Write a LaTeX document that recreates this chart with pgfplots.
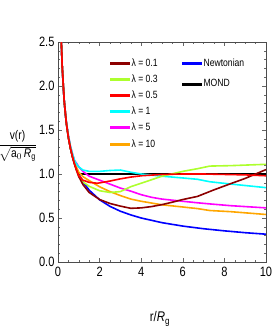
\documentclass[border=0pt]{standalone}
\usepackage{fontspec}
\setmainfont[FakeStretch=0.82]{Liberation Sans}
\usepackage{amsmath}
\usepackage{pgfplots}
\pgfplotsset{compat=1.18}
\definecolor{cDR}{rgb}{0.55,0,0}
\definecolor{cGY}{rgb}{0.68,1,0.18}
\definecolor{cRD}{rgb}{1,0,0}
\definecolor{cCY}{rgb}{0,1,1}
\definecolor{cMG}{rgb}{1,0,1}
\definecolor{cOR}{rgb}{1,0.65,0}
\definecolor{cBL}{rgb}{0,0,1}
\begin{document}
\begin{tikzpicture}
\path[use as bounding box] (-58pt,-65pt) rectangle (215pt,262pt);
\pgfplotsset{
  lgimg/.style={legend image code/.code={\fill[##1] (0pt,-1pt) rectangle (19pt,1pt);}},
}
\begin{axis}[
  scale only axis, width=208pt, height=220pt,
  xmin=0, xmax=10, ymin=0, ymax=2.5,
  xtick={0,2,...,10}, ytick={0,0.5,...,2.5},
  minor x tick num=3, minor y tick num=4,
  tick align=inside,
  major tick length=4pt, minor tick length=2pt,
  axis line style={black!70},
  every tick/.style={black!60},
  ticklabel style={font=\fontsize{13.5}{13.5}\selectfont},
  /pgf/number format/assume math mode=true,
  yticklabel style={/pgf/number format/.cd, fixed, fixed zerofill, precision=1},
  xticklabel style={yshift=-2pt},
  every axis y label/.style={at={(rel axis cs:0,0.5)}, xshift=-40.5pt, yshift=6pt, anchor=center},
  ylabel={\fontsize{12.5}{12.5}\selectfont$\dfrac{\text{v(r)}}{\sqrt{\text{a}_0\,\textit{R}_\text{g}}}$},
  every axis x label/.style={at={(rel axis cs:0.49,0)}, yshift=-57pt, anchor=center},
  xlabel={\fontsize{14}{14}\selectfont r/\textit{R}$_\text{g}$},
  legend style={at={(rel axis cs:0.25,0.935)}, anchor=north west, draw=none, fill=none,
    font=\fontsize{10.5}{10.5}\selectfont, row sep=2.6pt, inner sep=0pt,
    nodes={inner sep=2pt, text height=8pt, text depth=1.5pt}},
  legend cell align=left,
  lgimg,
  clip=true,
]
% Newtonian
\addplot[cBL, line width=1.6pt, forget plot] coordinates {
(0.16,2.5)(0.18,2.357)(0.2,2.236)(0.25,2.0)(0.3,1.826)(0.35,1.69)(0.4,1.581)(0.5,1.414)(0.6,1.291)(0.7,1.195)(0.8,1.118)(0.9,1.054)(1,1.0)(1.2,0.913)(1.5,0.816)(2,0.707)(2.5,0.632)(3,0.577)(3.5,0.535)(4,0.5)(5,0.447)(6,0.408)(7,0.378)(8,0.354)(9,0.333)(10,0.316)};
% MOND
\addplot[black, line width=1.6pt, forget plot] coordinates {
(0.16,2.5)(0.18,2.357)(0.2,2.236)(0.25,2.0)(0.3,1.826)(0.35,1.69)(0.4,1.581)(0.5,1.414)(0.6,1.291)(0.7,1.195)(0.8,1.118)(0.9,1.054)(1,1.0)(10,1.0)};
% lambda = 10
\addplot[cOR, line width=1.6pt, forget plot] coordinates {
(0.16,2.5)(0.2,2.236)(0.3,1.83)(0.4,1.59)(0.5,1.425)(0.6,1.305)(0.7,1.21)(0.8,1.13)(0.9,1.07)(1.0,1.02)(1.2,0.97)(1.5,0.925)(2,0.855)(2.5,0.80)(3,0.755)(3.5,0.715)(4,0.69)(4.5,0.67)(5,0.65)(6,0.625)(6.7,0.607)(7.3,0.585)(8.3,0.572)(10,0.54)};
% lambda = 5
\addplot[cMG, line width=1.6pt, forget plot] coordinates {
(0.16,2.5)(0.2,2.236)(0.3,1.835)(0.4,1.595)(0.5,1.435)(0.6,1.315)(0.7,1.225)(0.8,1.15)(0.9,1.12)(1.0,1.08)(1.2,1.03)(1.5,0.975)(2,0.93)(2.5,0.885)(3,0.84)(3.5,0.805)(4,0.765)(4.5,0.735)(5,0.715)(6,0.69)(6.7,0.673)(7.3,0.66)(8.3,0.64)(10,0.615)};
% lambda = 1
\addplot[cCY, line width=1.6pt, forget plot] coordinates {
(0.16,2.5)(0.2,2.236)(0.3,1.835)(0.4,1.595)(0.5,1.435)(0.6,1.315)(0.7,1.225)(0.8,1.15)(0.9,1.11)(1.0,1.08)(1.2,1.045)(1.5,1.03)(2,1.03)(2.5,1.04)(3,1.045)(3.5,1.02)(4,1.0)(5,0.975)(6,0.955)(6.7,0.94)(7.3,0.912)(8.3,0.886)(10,0.845)};
% lambda = 0.3
\addplot[cGY, line width=1.6pt, forget plot] coordinates {
(0.16,2.5)(0.2,2.236)(0.3,1.826)(0.4,1.581)(0.5,1.414)(0.6,1.29)(0.7,1.19)(0.8,1.11)(0.9,1.04)(1.0,0.98)(1.2,0.91)(1.5,0.86)(2,0.81)(2.5,0.79)(3,0.80)(3.5,0.856)(4,0.895)(5,0.975)(6,1.03)(6.7,1.06)(7.3,1.09)(8.3,1.095)(10,1.11)};
% lambda = 0.1
\addplot[cDR, line width=1.6pt, forget plot] coordinates {
(0.16,2.5)(0.2,2.236)(0.3,1.826)(0.4,1.581)(0.5,1.414)(0.6,1.29)(0.7,1.19)(0.8,1.105)(0.9,1.035)(1.0,0.97)(1.2,0.88)(1.5,0.79)(2,0.71)(2.5,0.665)(3,0.635)(3.5,0.61)(4,0.615)(4.5,0.63)(5,0.652)(5.5,0.68)(6,0.71)(6.7,0.745)(7.5,0.82)(8.3,0.89)(9,0.95)(10,1.05)};
% lambda = 0.5
\addplot[cRD, line width=1.6pt, forget plot] coordinates {
(0.16,2.5)(0.2,2.236)(0.3,1.826)(0.4,1.581)(0.5,1.414)(0.6,1.29)(0.7,1.19)(0.8,1.11)(0.9,1.04)(1.0,0.98)(1.2,0.93)(1.5,0.905)(1.9,0.895)(2.5,0.92)(3,0.945)(3.5,0.965)(4,0.98)(5,0.995)(6,1.0)(7,1.0)(8,0.995)(9,0.99)(10,0.98)};
\addlegendimage{cDR}\addlegendentry{λ = 0.1}
\addlegendimage{cGY}\addlegendentry{λ = 0.3}
\addlegendimage{cRD}\addlegendentry{λ = 0.5}
\addlegendimage{cCY}\addlegendentry{λ = 1}
\addlegendimage{cMG}\addlegendentry{λ = 5}
\addlegendimage{cOR}\addlegendentry{λ = 10}
\end{axis}
\begin{axis}[
  scale only axis, width=208pt, height=220pt,
  xmin=0, xmax=10, ymin=0, ymax=2.5,
  hide axis,
  legend style={at={(rel axis cs:0.596,0.935)}, anchor=north west, draw=none, fill=none,
    font=\fontsize{10.5}{10.5}\selectfont, row sep=7pt, inner sep=0pt,
    nodes={inner sep=2pt, text height=8pt, text depth=1.5pt}},
  legend cell align=left,
  lgimg,
]
\addlegendimage{cBL}\addlegendentry{Newtonian}
\addlegendimage{black}\addlegendentry{MOND}
\end{axis}
\end{tikzpicture}
\end{document}
